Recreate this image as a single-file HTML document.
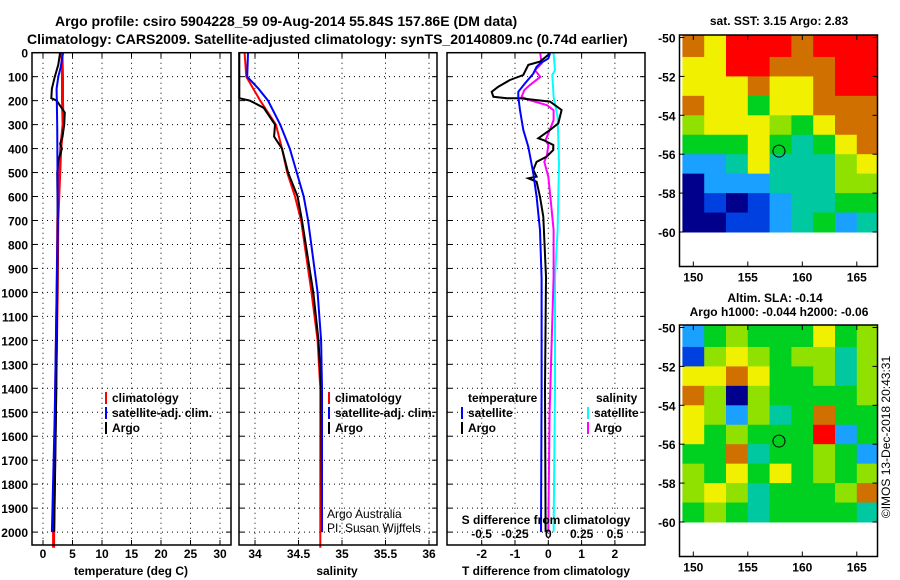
<!DOCTYPE html>
<html><head><meta charset="utf-8"><style>
body{margin:0;background:#fff;}
svg{display:block;font-family:"Liberation Sans",sans-serif;font-weight:bold;}
</style></head><body>
<svg id="c" width="900" height="580" viewBox="0 0 900 580" xmlns="http://www.w3.org/2000/svg">
<rect width="900" height="580" fill="#fff"/>
<text x="55" y="26" font-size="14">Argo profile: csiro 5904228_59 09-Aug-2014 55.84S 157.86E (DM data)</text>
<text x="27" y="44" font-size="14">Climatology: CARS2009. Satellite-adjusted climatology: synTS_20140809.nc (0.74d earlier)</text>
</svg>
<script>
// ---- data ----
const depthTicks=[0,100,200,300,400,500,600,700,800,900,1000,1100,1200,1300,1400,1500,1600,1700,1800,1900,2000];
const tempTicks=[0,5,10,15,20,25,30];
const salTicks=[34,34.5,35,35.5,36];
const salTickLabels=["34","34.5","35","35.5","36"];
const dTTicks=[-2,-1,0,1,2];
const dSTicks=[-0.5,-0.25,0,0.25,0.5];
const dSTickLabels=["-0.5","-0.25","0","0.25","0.5"];

const tClimDepth=[0,100,200,300,400,700,1000,1500,2000,2065];
const tClimVal=[3.2,3.3,3.3,3.4,3.0,2.5,2.4,2.1,1.8,1.8];
const tSatDepth=[0,60,100,150,300,700,1000,1500,2000];
const tSatVal=[3.4,3.0,2.6,2.3,2.4,2.5,2.3,2.0,1.5];
const tArgoDepth=[0,50,100,150,190,200,250,300,350,380,400,450,500,700,1000,1500,2000];
const tArgoVal=[2.9,2.6,2.0,1.5,1.4,2.3,3.7,3.6,3.3,2.9,3.2,2.6,2.4,2.5,2.4,2.2,1.9];

const sClimDepth=[0,100,150,200,300,400,500,600,700,1000,1200,1400,2000,2065];
const sClimVal=[33.88,33.9,33.98,34.06,34.24,34.31,34.37,34.46,34.53,34.65,34.72,34.75,34.75,34.75];
const sSatDepth=[0,100,150,200,300,400,500,600,700,1000,1200,1400,2000];
const sSatVal=[33.92,33.91,34.04,34.15,34.29,34.4,34.48,34.56,34.61,34.72,34.76,34.77,34.77];
const sArgoDepth=[0,190,200,230,300,350,400,500,600,700,1000,1200,1400,2000];
const sArgoVal=[33.82,33.82,33.94,34.1,34.23,34.22,34.31,34.38,34.49,34.54,34.67,34.73,34.76,34.77];

const dTArgoDepth=[3,37,51,93,114,142,163,184,190,190,204,239,295,322,357,364,385,406,434,455,489,517,524,538,601,684,934,1400,2000];
const dTArgoVal=[0.05,-0.25,-0.6,-0.75,-1.15,-1.5,-1.7,-1.65,-1.25,-0.85,0.05,0.4,0.3,0.05,-0.3,-0.15,0.15,0.15,-0.05,-0.35,-0.45,-0.35,-0.6,-0.35,-0.25,-0.15,-0.07,-0.1,-0.08];
const dTSatDepth=[3,24,45,59,87,128,163,184,240,322,392,503,601,740,941,1400,2000];
const dTSatVal=[0.05,0,-0.25,-0.35,-0.45,-0.7,-0.9,-0.9,-0.85,-0.75,-0.6,-0.45,-0.35,-0.25,-0.2,-0.2,-0.22];
const dSArgoDepth=[3,45,73,101,136,156,184,198,219,240,281,337,364,385,427,455,517,628,740,934,1500,2000];
const dSArgoVal=[-0.06,-0.05,-0.1,-0.06,-0.14,-0.18,-0.2,-0.14,-0.01,0.04,0.04,0,-0.02,0,-0.01,-0.03,0,0.02,0.04,0.04,0.01,0];
const dSSatDepth=[3,73,93,184,268,462,740,934,1400,2000];
const dSSatVal=[0.04,0.05,0.03,0.04,0.07,0.08,0.07,0.05,0.05,0.04];

const sstGrid=[
[7,6,8,8,8,7,8,8,8],
[6,6,8,8,7,7,7,8,8],
[6,6,6,7,6,6,7,8,8],
[7,6,6,4,6,6,7,7,7],
[5,6,6,6,5,4,6,7,7],
[4,4,4,6,4,3,4,6,7],
[2,2,3,6,3,3,3,5,6],
[0,2,2,2,3,3,3,5,5],
[0,1,0,1,2,3,3,4,4],
[0,0,1,1,2,3,4,2,3]];
const slaGrid=[
[2,4,5,4,4,4,6,4,5],
[1,5,6,5,4,5,5,3,5],
[6,6,7,6,4,4,5,3,5],
[7,5,0,5,4,4,4,4,5],
[6,5,2,5,3,4,7,4,4],
[6,4,5,4,4,4,8,2,4],
[4,4,7,3,4,4,5,4,2],
[5,4,6,4,6,4,5,4,5],
[5,6,5,3,4,4,4,5,7],
[4,5,4,3,4,4,4,4,3]];
const palette=["#00008c","#0040e0","#1aa0ff","#00c8a0","#00d020","#90e000","#f0f000","#d07000","#ff0000"];
const mapLonTicks=[150,155,160,165];
const mapLatTicks=[-50,-52,-54,-56,-58,-60];

// ---- helpers ----
const svg=document.getElementById('c');
const NS="http://www.w3.org/2000/svg";
function mk(tag,at,parent){const e=document.createElementNS(NS,tag);for(const k in at)e.setAttribute(k,at[k]);(parent||svg).appendChild(e);return e;}
function txt(x,y,s,size,anchor,parent){const e=mk('text',{x:x,y:y,'font-size':size,'text-anchor':anchor||'middle'},parent);e.textContent=s;return e;}

const TOP=52.7, PXM=0.2397, BOT=545;
const yD=d=>TOP+d*PXM;
const xT=t=>43+t*5.9;
const xS=s=>255+(s-34)*87;
const xDT=t=>548.3+t*33.3;
const xDS=s=>548.3+s*133.3;

const panels=[{x0:32,x1:231,name:'temperature-panel'},{x0:239,x1:437,name:'salinity-panel'},{x0:447,x1:645,name:'difference-panel'}];
panels.forEach(p=>{
  const g=mk('g',{});
  
  
  p.g=g;
  depthTicks.forEach(d=>{const l=mk('line',{x1:p.x0,x2:p.x1,y1:yD(d),y2:yD(d),stroke:'#000','stroke-width':1,'stroke-dasharray':'1,4'},g);
    
    mk('line',{x1:p.x0,x2:p.x0+5,y1:yD(d),y2:yD(d),stroke:'#000'},g);mk('line',{x1:p.x1-5,x2:p.x1,y1:yD(d),y2:yD(d),stroke:'#000'},g);});
});
depthTicks.forEach(d=>{const t=txt(28,yD(d)+5,String(d),12,'end');});
function vgrid(p,xs){xs.forEach(x=>{mk('line',{x1:x,x2:x,y1:TOP,y2:BOT,stroke:'#000','stroke-dasharray':'1,4'},p.g);mk('line',{x1:x,x2:x,y1:BOT-5,y2:BOT,stroke:'#000'},p.g);mk('line',{x1:x,x2:x,y1:TOP,y2:TOP+5,stroke:'#000'},p.g);});}
vgrid(panels[0],tempTicks.map(xT));
vgrid(panels[1],salTicks.map(xS));
vgrid(panels[2],dTTicks.map(xDT));
tempTicks.forEach(t=>{const e=txt(xT(t),558,String(t),12);});
salTicks.forEach((s,i)=>{const e=txt(xS(s),558,salTickLabels[i],12);});
dTTicks.forEach(t=>{const e=txt(xDT(t),558,String(t),12);});
dSTicks.forEach((s,i)=>{const e=txt(xDS(s),538,dSTickLabels[i],12);});
let e;
e=txt(131,575,'temperature (deg C)',12);
e=txt(337,575,'salinity',12);
e=txt(546,575,'T difference from climatology',12);
e=txt(546,524,'S difference from climatology',12);

function line(p,ds,vs,fx,col,name,w){
  const pts=ds.map((d,i)=>fx(vs[i]).toFixed(1)+','+yD(d).toFixed(1)).join(' ');
  const l=mk('polyline',{points:pts,fill:'none',stroke:col,'stroke-width':w||2},p.g);
  
  
}
line(panels[0],tClimDepth,tClimVal,xT,'#f00','temp-climatology-line',3);
line(panels[0],tArgoDepth,tArgoVal,xT,'#000','temp-argo-line',2);
line(panels[0],tSatDepth,tSatVal,xT,'#00f','temp-satellite-line',2);
line(panels[1],sClimDepth,sClimVal,xS,'#f00','salinity-climatology-line',2);
line(panels[1],sArgoDepth,sArgoVal,xS,'#000','salinity-argo-line',2);
line(panels[1],sSatDepth,sSatVal,xS,'#00f','salinity-satellite-line',2);
line(panels[2],dSSatDepth,dSSatVal,xDS,'#0ff','ds-satellite-line',2);
line(panels[2],dSArgoDepth,dSArgoVal,xDS,'#f0f','ds-argo-line',2);
line(panels[2],dTArgoDepth,dTArgoVal,xDT,'#000','dt-argo-line',2);
line(panels[2],dTSatDepth,dTSatVal,xDT,'#00f','dt-satellite-line',2);
panels.forEach(p=>{mk('rect',{x:p.x0,y:TOP,width:p.x1-p.x0,height:BOT-TOP,fill:'none',stroke:'#000','stroke-width':1.5},p.g);});

function legend(x,y,items,name){
  const g=mk('g',{});
  
  
  items.forEach((it,i)=>{
    mk('rect',{x:x,y:y+i*15-10,width:2,height:12,fill:it[1]},g);
    const t=txt(x+7,y+i*15,it[0],12,'start',g);
    
    
  });
}
legend(105,402,[['climatology','#f00'],['satellite-adj. clim.','#00f'],['Argo','#000']],'temperature-legend');
legend(328,402,[['climatology','#f00'],['satellite-adj. clim.','#00f'],['Argo','#000']],'salinity-legend');
e=txt(468,402,'temperature',12,'start');
legend(461,417,[['satellite','#00f'],['Argo','#000']],'dt-legend');
e=txt(596,402,'salinity',12,'start');
legend(587,417,[['satellite','#0ff'],['Argo','#f0f']],'ds-legend');
e=mk('text',{x:327,y:518,'font-size':12,'font-weight':'normal'});e.textContent='Argo Australia';
e=mk('text',{x:327,y:532,'font-size':12,'font-weight':'normal'});e.textContent='PI: Susan Wijffels';

// ---- maps ----
function map(top,grid,name){
  const x0=679.5,x1=877.5,yTop=top,y60=top+197,yBot=top+231.5;
  const lonX=l=>693.3+(l-150)*10.9;
  const latY=a=>yTop+2.5+(-50-a)*19.45;
  const g=mk('g',{});
  
  
  grid.forEach((row,r)=>row.forEach((v,c)=>{
    const lx=149+c*2, la=-50-r;
    const xa=Math.max(x0,lonX(lx)), xb=Math.min(x1,lonX(lx+2));
    const ya=r==0?yTop:latY(la), yb=latY(la-1);
    const cell=mk('rect',{x:xa,y:ya,width:xb-xa+0.5,height:yb-ya+0.5,fill:palette[v]},g);
    
    
  }));
  mk('rect',{x:x0,y:yTop,width:x1-x0,height:yBot-yTop,fill:'none',stroke:'#000','stroke-width':1.5},g);
  mapLonTicks.forEach(l=>{mk('line',{x1:lonX(l),x2:lonX(l),y1:yBot,y2:yBot-5,stroke:'#000'},g);mk('line',{x1:lonX(l),x2:lonX(l),y1:yTop,y2:yTop+5,stroke:'#000'},g);
    const t=txt(lonX(l),yBot+15,String(l),12,'middle',g);});
  mapLatTicks.forEach(a=>{mk('line',{x1:x0,x2:x0+5,y1:latY(a),y2:latY(a),stroke:'#000'},g);mk('line',{x1:x1-5,x2:x1,y1:latY(a),y2:latY(a),stroke:'#000'},g);
    const t=txt(x0-4,latY(a)+5,String(a),12,'end',g);});
  const m=mk('circle',{cx:lonX(157.86),cy:latY(-55.84),r:6,fill:'none',stroke:'#000'},g);
  
}
map(35,sstGrid,'sst-map');
map(325,slaGrid,'sla-map');
e=txt(779,25,'sat. SST: 3.15 Argo: 2.83',12);
e=txt(775,302,'Altim. SLA: -0.14',12);
e=txt(779,316,'Argo h1000: -0.044 h2000: -0.06',12);
e=mk('text',{x:0,y:0,'font-size':12,'font-weight':'normal','text-anchor':'middle',transform:'translate(890,437) rotate(-90)'});
e.textContent='©IMOS 13-Dec-2018 20:43:31';
</script>
</body></html>
